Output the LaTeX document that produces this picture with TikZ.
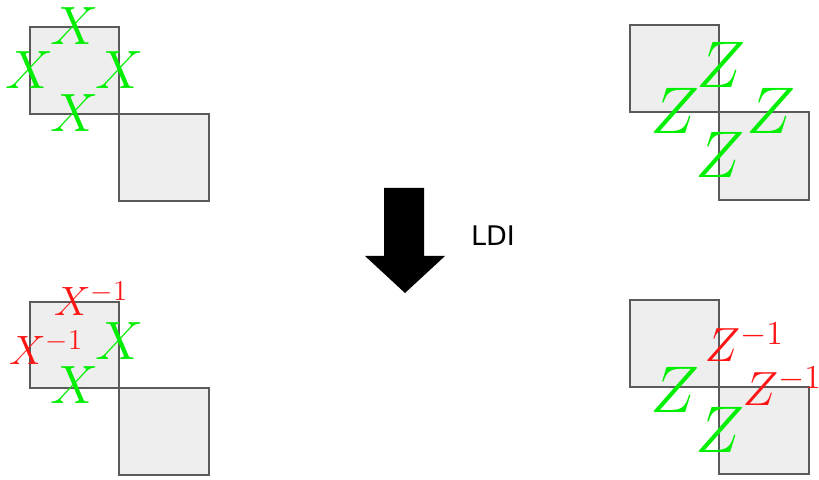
\RequirePackage{fix-cm}
\documentclass[tikz,border=0pt]{standalone}
\usepackage{mathtools}
\usepackage{fontspec}
\usepackage{xcolor}
\newfontfamily\ldifont{DejaVu Sans}
\definecolor{cellfill}{RGB}{238,238,238}
\definecolor{celldraw}{RGB}{90,90,90}
\definecolor{opgreen}{RGB}{0,238,0}
\definecolor{opred}{RGB}{255,20,20}
\tikzset{
  cell/.style={fill=cellfill,draw=celldraw,line width=1pt},
  xop/.style={text=opgreen,inner sep=0pt,font=\fontsize{27}{31}\selectfont},
  zop/.style={text=opgreen,inner sep=0pt,font=\fontsize{33}{38}\selectfont},
  xinv/.style={text=opred,inner sep=0pt,font=\fontsize{20.5}{24}\selectfont},
  zinv/.style={text=opred,inner sep=0pt,font=\fontsize{24}{28}\selectfont}
}
\begin{document}
\begin{tikzpicture}[x=0.5pt,y=-0.5pt]
            \useasboundingbox (0,0) rectangle (819,480);

            % star before
            \draw[cell] (30,27) rectangle (119,114);
            \draw[cell] (119,114) rectangle (209,201);
            \node[xop] (xt) at (75,26){$X$};
            \node[xop] (xl) at (30,70){$X$};
            \node[xop] (xr) at (120,70){$X$};
            \node[xop] (xb) at (75,113){$X$};

            % plaquette before
            \draw[cell] (630,25) rectangle (719,112);
            \draw[cell] (719,112) rectangle (809,200);
            \node[zop] (zt) at (721,65){$Z$};
            \node[zop] (zl) at (675,111){$Z$};
            \node[zop] (zr) at (771,111){$Z$};
            \node[zop] (zb) at (720,155){$Z$};

            % arrow
            \fill[black] (384,188) -- (424,188) -- (424,256) -- (445,256) -- (405,293) -- (365,256) -- (384,256) -- cycle;
            \node[inner sep=0pt,font=\ldifont\fontsize{13.5}{16}\selectfont] (ldi) at (493,236){LDI};

            % star after
            \draw[cell] (30,302) rectangle (119,388);
            \draw[cell] (119,388) rectangle (209,475);
            \node[xinv] (xt2) at (73,299){$X^{\mathrlap{-1}}$};
            \node[xinv] (xl2) at (28,348){$X^{\mathrlap{-1}}$};
            \node[xop] (xr2) at (120,341){$X$};
            \node[xop] (xb2) at (75,385){$X$};

            % plaquette after
            \draw[cell] (630,300) rectangle (719,387);
            \draw[cell] (719,387) rectangle (809,474);
            \node[zinv] (zt2) at (723,342){$Z^{\mathrlap{-1}}$};
            \node[zinv] (zr2) at (761,386){$Z^{\mathrlap{-1}}$};
            \node[zop] (zl2) at (675,390){$Z$};
            \node[zop] (zb2) at (720,430){$Z$};

\end{tikzpicture}
\end{document}
